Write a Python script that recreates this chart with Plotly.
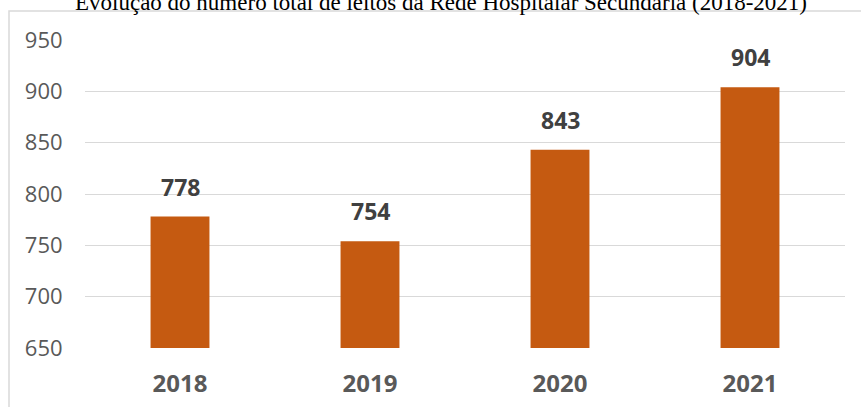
import plotly.graph_objects as go

# leitos da rede hospitalar secundaria, por ano
anos = ['2018', '2019', '2020', '2021']
leitos = [778, 754, 843, 904]
y_ticks = [650, 700, 750, 800, 850, 900, 950]

titulo = 'Evolução do número total de leitos da Rede Hospitalar Secundária (2018-2021)'
cor_barra = '#C55A11'

fig = go.Figure()
fig.add_trace(go.Bar(x=anos, y=leitos, marker_color=cor_barra,
                     marker_line_width=0, hoverinfo='x+y'))

# rotulos dos valores acima das barras
# (x pelo indice da categoria: '2018' seria lido como numero)
for i, valor in enumerate(leitos):
    fig.add_annotation(x=i, y=valor, text=f'<b>{valor}</b>', showarrow=False,
                       yanchor='middle', yshift=30,
                       font=dict(family='Open Sans', size=23, color='#404040'))

# moldura cinza do grafico (cortada a direita e embaixo)
fig.add_shape(type='rect', xref='paper', yref='paper',
              x0=-76 / 760, x1=1.2, y0=-0.5, y1=1 + 29 / 308,
              line=dict(color='#D9D9D9', width=1.5), layer='above')

fig.update_layout(
    width=861, height=407,
    margin=dict(l=85, r=16, t=40, b=59, autoexpand=False),
    paper_bgcolor='white', plot_bgcolor='white',
    bargap=0.69,
    showlegend=False,
    title=dict(text=titulo, x=441 / 861, xanchor='center', xref='container',
               y=1 - 2 / 407, yanchor='middle', yref='container',
               font=dict(family='Liberation Serif', size=23, color='black')),
)
fig.update_xaxes(type='category', range=[-0.5, len(anos) - 0.5],
                 showgrid=False, showline=False,
                 ticks='outside', ticklen=14, tickcolor='rgba(0,0,0,0)',
                 automargin=False,
                 tickfont=dict(family='Open Sans', size=24, color='#595959',
                               weight='bold'))
fig.update_yaxes(range=[650, 950], tickvals=y_ticks, showgrid=True,
                 gridcolor='#D9D9D9', gridwidth=1, zeroline=False,
                 ticks='outside', ticklen=17, tickcolor='rgba(0,0,0,0)',
                 automargin=False,
                 tickfont=dict(family='Open Sans', size=22, color='#595959'))

# sem a margem padrao do body, o grafico fica no canto da janela
fig.write_html('out.html', config={'displayModeBar': False},
               post_script="document.body.style.margin = '0';")
